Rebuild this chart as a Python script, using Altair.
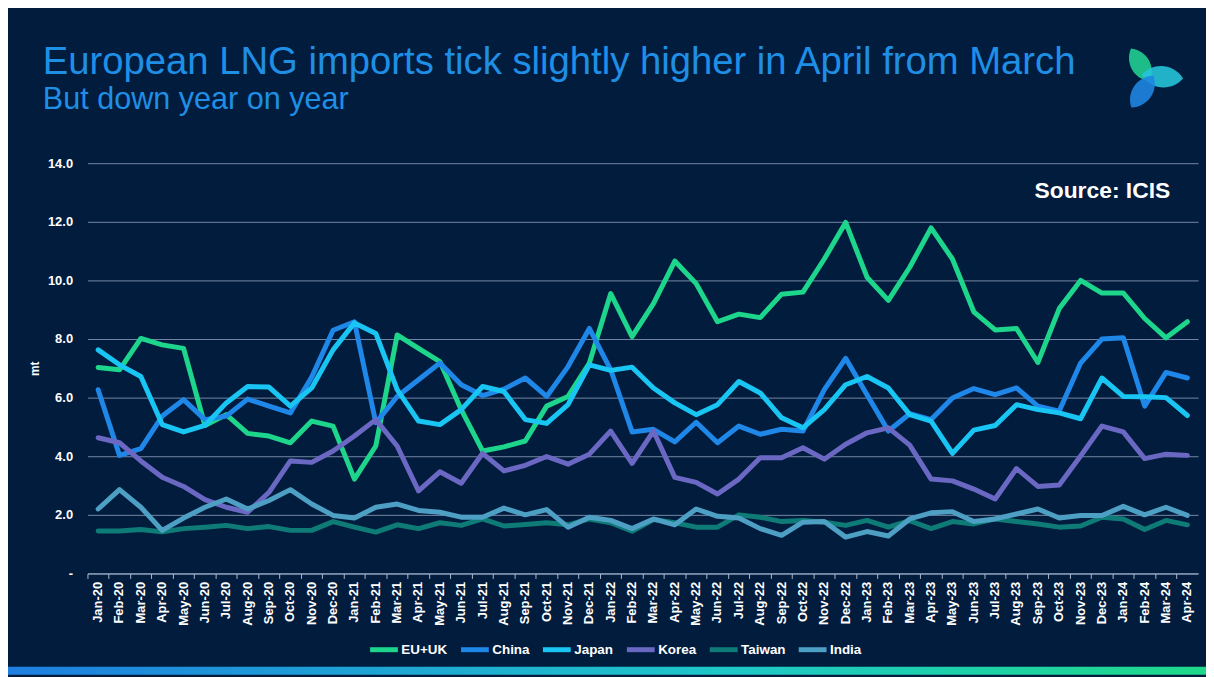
import altair as alt
import pandas as pd

months = ["Jan-20", "Feb-20", "Mar-20", "Apr-20", "May-20", "Jun-20", "Jul-20", "Aug-20", "Sep-20", "Oct-20", "Nov-20", "Dec-20",
          "Jan-21", "Feb-21", "Mar-21", "Apr-21", "May-21", "Jun-21", "Jul-21", "Aug-21", "Sep-21", "Oct-21", "Nov-21", "Dec-21",
          "Jan-22", "Feb-22", "Mar-22", "Apr-22", "May-22", "Jun-22", "Jul-22", "Aug-22", "Sep-22", "Oct-22", "Nov-22", "Dec-22",
          "Jan-23", "Feb-23", "Mar-23", "Apr-23", "May-23", "Jun-23", "Jul-23", "Aug-23", "Sep-23", "Oct-23", "Nov-23", "Dec-23",
          "Jan-24", "Feb-24", "Mar-24", "Apr-24"]

eu_uk = [7.03, 6.95, 8.02, 7.80, 7.68, 5.05, 5.42, 4.78, 4.69, 4.46, 5.20, 5.03,
         3.22, 4.35, 8.14, 7.68, 7.23, 5.59, 4.18, 4.32, 4.52, 5.71, 6.04, 7.18,
         9.55, 8.08, 9.21, 10.66, 9.89, 8.59, 8.85, 8.73, 9.53, 9.60, 10.73, 11.98,
         10.11, 9.32, 10.45, 11.79, 10.73, 8.93, 8.31, 8.36, 7.20, 9.04, 10.00, 9.57,
         9.57, 8.70, 8.04, 8.59]
china = [6.27, 4.03, 4.26, 5.37, 5.93, 5.25, 5.37, 5.95, 5.71, 5.48, 6.70, 8.30,
         8.59, 5.14, 6.04, 6.61, 7.18, 6.44, 6.07, 6.29, 6.67, 6.04, 7.06, 8.36,
         6.95, 4.83, 4.92, 4.49, 5.16, 4.46, 5.03, 4.75, 4.92, 4.86, 6.27, 7.34,
         6.10, 4.86, 5.45, 5.25, 5.99, 6.31, 6.10, 6.33, 5.71, 5.54, 7.18, 8.00,
         8.04, 5.71, 6.86, 6.67]
japan = [7.63, 7.12, 6.72, 5.08, 4.83, 5.05, 5.82, 6.38, 6.36, 5.71, 6.33, 7.63,
         8.55, 8.19, 6.27, 5.20, 5.08, 5.59, 6.38, 6.21, 5.25, 5.12, 5.76, 7.12,
         6.93, 7.04, 6.33, 5.82, 5.42, 5.76, 6.55, 6.16, 5.31, 4.97, 5.59, 6.44,
         6.72, 6.33, 5.42, 5.20, 4.10, 4.89, 5.05, 5.76, 5.59, 5.48, 5.28, 6.67,
         6.04, 6.03, 6.00, 5.39]
korea = [4.63, 4.46, 3.84, 3.28, 2.97, 2.52, 2.26, 2.09, 2.77, 3.84, 3.79, 4.18,
         4.69, 5.25, 4.35, 2.82, 3.47, 3.08, 4.10, 3.50, 3.69, 3.99, 3.73, 4.07,
         4.86, 3.76, 4.86, 3.28, 3.11, 2.71, 3.22, 3.95, 3.95, 4.29, 3.90, 4.41,
         4.80, 4.97, 4.38, 3.22, 3.16, 2.88, 2.54, 3.58, 2.97, 3.02, 4.01, 5.03,
         4.83, 3.92, 4.07, 4.03]
taiwan = [1.45, 1.45, 1.50, 1.42, 1.53, 1.58, 1.64, 1.53, 1.60, 1.47, 1.47, 1.77,
          1.58, 1.41, 1.66, 1.53, 1.73, 1.64, 1.86, 1.62, 1.67, 1.73, 1.66, 1.86,
          1.73, 1.44, 1.84, 1.73, 1.58, 1.58, 2.00, 1.92, 1.77, 1.81, 1.75, 1.64,
          1.81, 1.58, 1.80, 1.53, 1.77, 1.69, 1.86, 1.77, 1.69, 1.58, 1.62, 1.92,
          1.86, 1.50, 1.81, 1.66]
india = [2.20, 2.86, 2.26, 1.47, 1.89, 2.26, 2.54, 2.20, 2.49, 2.86, 2.37, 1.98,
         1.89, 2.26, 2.37, 2.15, 2.09, 1.92, 1.92, 2.23, 2.00, 2.18, 1.58, 1.92,
         1.81, 1.53, 1.86, 1.66, 2.20, 1.95, 1.89, 1.53, 1.30, 1.75, 1.77, 1.24,
         1.43, 1.28, 1.86, 2.07, 2.11, 1.77, 1.86, 2.03, 2.20, 1.89, 1.98, 1.98,
         2.29, 2.00, 2.26, 1.98]

series_names = ["EU+UK", "China", "Japan", "Korea", "Taiwan", "India"]
series_values = [eu_uk, china, japan, korea, taiwan, india]
series_colors = ["#1dd68c", "#1e87e8", "#19c5f2", "#6b68c4", "#0e7b76", "#4d9fc4"]
y_ticks = [0, 2, 4, 6, 8, 10, 12, 14]

title_text = "European LNG imports tick slightly higher in April from March"
subtitle_text = "But down year on year"
source_text = "Source: ICIS"

rows = []
for name, vals in zip(series_names, series_values):
    for m, v in zip(months, vals):
        rows.append({"month": m, "series": name, "value": v, "order": series_names.index(name)})
df = pd.DataFrame(rows)

FONT = "Liberation Sans"
BG = "#021c3e"

lines = alt.Chart(df).mark_line(strokeWidth=5, strokeJoin="round", strokeCap="round").encode(
    x=alt.X("month:O", sort=months,
            scale=alt.Scale(type="band", paddingInner=0, paddingOuter=0),
            axis=alt.Axis(title=None, labelAngle=-90, labelFont=FONT, labelFontWeight="bold",
                          labelFontSize=13, labelColor="#ffffff", labelPadding=3, tickSize=5,
                          tickColor="#a9b9cf", domainColor="#a9b9cf", bandPosition=0,
                          grid=False, labelOverlap=False)),
    y=alt.Y("value:Q", scale=alt.Scale(domain=[0, 14], nice=False),
            axis=alt.Axis(title="mt", values=y_ticks,
                          labelExpr="datum.value == 0 ? '-' : format(datum.value, '.1f')",
                          gridColor="#7588a4", gridWidth=1, domain=False, ticks=False,
                          labelPadding=15, labelFontSize=13, labelFontWeight="bold",
                          labelColor="#ffffff", labelFont=FONT,
                          titleFont=FONT, titleFontSize=12, titleFontWeight="bold",
                          titleColor="#ffffff", titleX=-46, titleAngle=-90)),
    color=alt.Color("series:N", sort=series_names,
                    scale=alt.Scale(domain=series_names, range=series_colors),
                    legend=alt.Legend(title=None, orient="none", legendX=282, legendY=473,
                                      direction="horizontal", columns=6,
                                      symbolType="stroke", symbolSize=784, symbolStrokeWidth=5,
                                      labelFont=FONT, labelFontSize=13.5, labelFontWeight="bold",
                                      labelColor="#ffffff", labelOffset=1, columnPadding=2.5,
                                      padding=0)),
    order=alt.Order("order:Q"),
)

title_mark = alt.Chart(pd.DataFrame({"t": [title_text]})).mark_text(
    align="left", baseline="alphabetic", font=FONT, fontSize=38.5, color="#1f8fe6"
).encode(x=alt.value(-45), y=alt.value(-90), text="t:N")

subtitle_mark = alt.Chart(pd.DataFrame({"t": [subtitle_text]})).mark_text(
    align="left", baseline="alphabetic", font=FONT, fontSize=30.8, color="#1f8fe6"
).encode(x=alt.value(-45), y=alt.value(-55), text="t:N")

source_mark = alt.Chart(pd.DataFrame({"t": [source_text]})).mark_text(
    align="right", baseline="alphabetic", font=FONT, fontSize=23, fontWeight="bold", color="#ffffff"
).encode(x=alt.value(1090), y=alt.value(35), text="t:N")

strip = alt.Chart(pd.DataFrame({"a": [0]})).mark_rect(
    color=alt.LinearGradient(gradient="linear", x1=0, x2=1, y1=0, y2=0,
                             stops=[alt.GradientStop(color="#1e7fe0", offset=0),
                                    alt.GradientStop(color="#1ec8c8", offset=0.6),
                                    alt.GradientStop(color="#1ed98a", offset=1)])
).encode(x=alt.value(-80), x2=alt.value(1126), y=alt.value(507), y2=alt.value(515))

leaf = "M0,-1C0.68,-0.5 0.68,0.5 0,1C-0.68,0.5 -0.68,-0.5 0,-1Z"
petal_top = alt.Chart(pd.DataFrame({"a": [0]})).mark_point(
    shape=leaf, filled=True, size=1444, angle=330, color="#1fc58c", opacity=0.95, strokeWidth=0
).encode(x=alt.value(1060), y=alt.value(-99))
petal_right = alt.Chart(pd.DataFrame({"a": [0]})).mark_point(
    shape=leaf, filled=True, size=1764, angle=95, color="#25c3d9", opacity=0.9, strokeWidth=0
).encode(x=alt.value(1082), y=alt.value(-87))
petal_bottom = alt.Chart(pd.DataFrame({"a": [0]})).mark_point(
    shape=leaf, filled=True, size=1521, angle=35, color="#1f86e0", opacity=0.9, strokeWidth=0
).encode(x=alt.value(1062), y=alt.value(-72))

chart = alt.layer(
    strip, lines, title_mark, subtitle_mark, source_mark, petal_top, petal_right, petal_bottom
).properties(
    width=1118, height=413,
    padding={"left": 80, "top": 154, "right": 8, "bottom": 102},
    autosize=alt.AutoSizeParams(type="none"),
).configure(background=BG, font=FONT).configure_view(stroke=None)

chart.save("out.html", embed_options={"renderer": "svg", "actions": False})
